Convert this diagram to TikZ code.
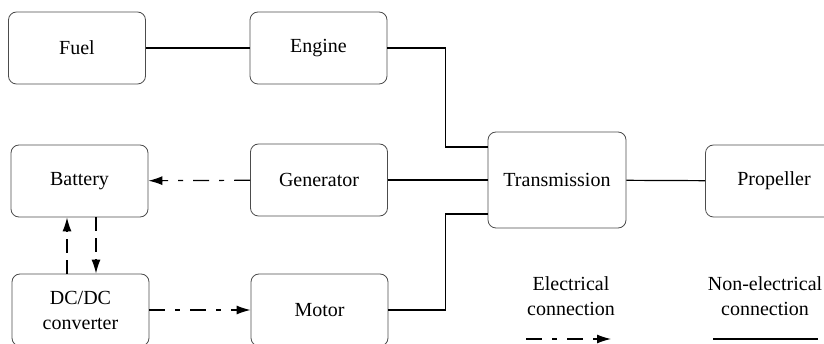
\documentclass[tikz,border=0pt]{standalone}
\usepackage{fontspec}
\setmainfont{Liberation Serif}
\usetikzlibrary{arrows.meta}
\tikzset{
  unit/.style={draw=black!70, line width=0.8pt, rounded corners=8pt, align=center,
    minimum width=137pt, minimum height=72pt, inner sep=2pt,
    font=\fontsize{20}{25}\selectfont},
  legend/.style={align=center, font=\fontsize{20}{24.5}\selectfont},
  mech/.style={line width=1.2pt},
  elec/.style={line width=1.2pt, dash pattern=on 16pt off 10pt on 5pt off 10pt,
    -{Latex[length=14pt, width=9pt]}},
  elecv/.style={line width=1.2pt, dash pattern=on 14pt off 7pt,
    -{Latex[length=14pt, width=9pt]}},
}
\begin{document}
\begin{tikzpicture}[x=1pt, y=-1pt]
    \useasboundingbox (0,0) rectangle (824,344);
    \clip (0,0) rectangle (824,344);
    \node[unit] (fuel) at (77,48) {Fuel};
    \node[unit] (eng) at (318.5,48) {Engine};
    \node[unit] (bat) at (79.5,181) {Battery};
    \node[unit] (gen) at (319,180) {Generator};
    \node[unit] (conv) at (80.5,310) {DC/DC\\converter};
    \node[unit] (mot) at (319.5,310) {Motor};
    \node[unit, minimum height=96pt, minimum width=138pt] (trans) at (557,180) {Transmission};
    \node[unit] (prop) at (774,181) {Propeller};
    \node[legend] (lel) at (571,296) {Electrical\\connection};
    \node[legend] (lnel) at (765,296) {Non-electrical\\connection};
    \coordinate (el1) at (526,339);
    \coordinate (el2) at (611,339);
    \coordinate (ne1) at (713,339);
    \coordinate (ne2) at (818,339);
    % mechanical links
    \draw[mech] (fuel) -- (eng);
    \draw[mech] (eng.east) -| ([xshift=-42pt, yshift=33pt]trans.west) -- ([yshift=33pt]trans.west);
    \draw[mech] (gen) -- (trans);
    \draw[mech] (mot.east) -| ([xshift=-42pt, yshift=-34pt]trans.west) -- ([yshift=-34pt]trans.west);
    \draw[mech] (trans) -- (prop);
    % electrical links
    \draw[elec] (gen) -- (bat);
    \draw[elec] (conv) -- (mot);
    \draw[elecv] ([xshift=-13.5pt]conv.north) -- ([xshift=-12.5pt]bat.south);
    \draw[elecv] ([xshift=16.5pt]bat.south) -- ([xshift=15.5pt]conv.north);
    % legend
    \draw[elec] (el1) -- (el2);
    \draw[mech] (ne1) -- (ne2);
  \end{tikzpicture}
\end{document}
